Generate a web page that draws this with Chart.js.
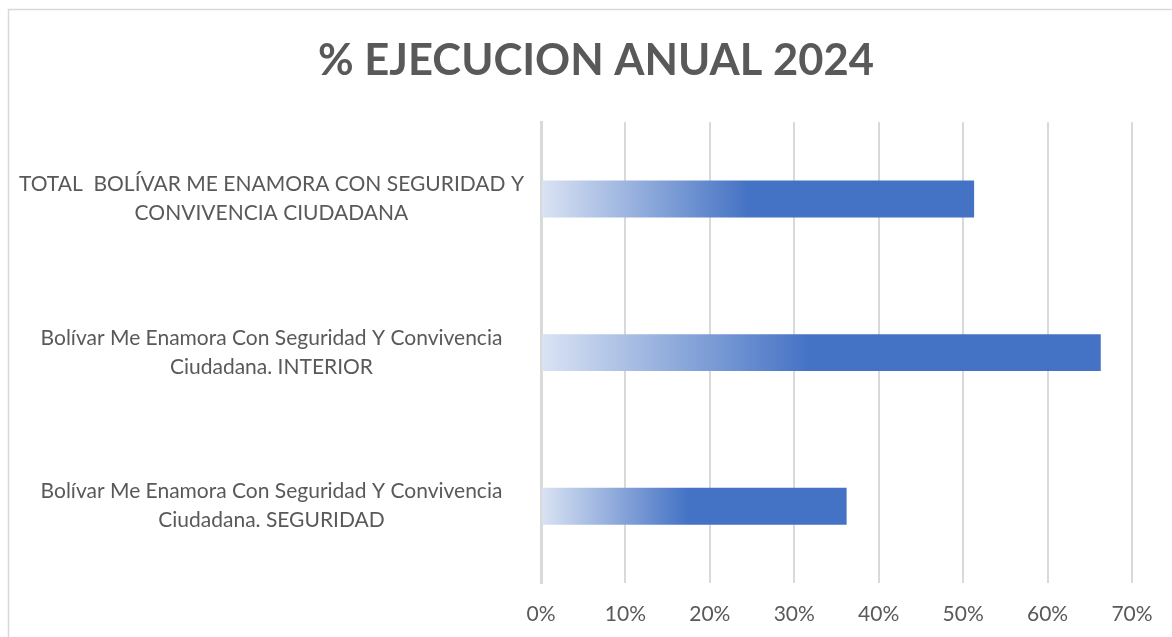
<!DOCTYPE html>
<html>
<head>
<meta charset="utf-8">
<script src="https://cdn.jsdelivr.net/npm/chart.js@4.4.1/dist/chart.umd.min.js"></script>
<style>
  html, body { margin: 0; padding: 0; background: #fff; }
  #wrap { width: 1172px; height: 637px; }
</style>
</head>
<body>
<div id="wrap"><canvas id="grafico" width="1172" height="637"></canvas></div>
<script>
// Datos del gráfico
const categorias = [
  ['TOTAL  BOLÍVAR ME ENAMORA CON SEGURIDAD Y', 'CONVIVENCIA CIUDADANA'],
  ['Bolívar Me Enamora Con Seguridad Y Convivencia', 'Ciudadana. INTERIOR'],
  ['Bolívar Me Enamora Con Seguridad Y Convivencia', 'Ciudadana. SEGURIDAD']
];
const ejecucion = [0.513, 0.663, 0.362];
const ticksX = [0, 0.1, 0.2, 0.3, 0.4, 0.5, 0.6, 0.7];

const gris = '#595959';

// degradado por barra, de claro a azul
function colorBarra(context) {
  const chart = context.chart;
  const x = chart.scales.x;
  if (!chart.chartArea || !x) return '#4472c4';
  const v = context.raw;
  const x0 = x.getPixelForValue(0);
  const x1 = x.getPixelForValue(v);
  const g = chart.ctx.createLinearGradient(x0, 0, x1, 0);
  g.addColorStop(0, '#dae3f3');
  g.addColorStop(0.48, '#4472c4');
  g.addColorStop(1, '#4472c4');
  return g;
}

const marco = {
  id: 'marco',
  beforeDraw(chart) {
    const ctx = chart.ctx;
    ctx.save();
    ctx.strokeStyle = '#d9d9d9';
    ctx.lineWidth = 1.5;
    ctx.strokeRect(8.5, 9.5, 1300, 800);
    ctx.restore();
  },
  // el título va un poco a la derecha, como en el original
  afterLayout(chart) {
    const t = chart.titleBlock;
    if (t) { t.left += 21; t.right += 21; }
  }
};

window.onload = function() {
  const ctx = document.getElementById('grafico').getContext('2d');
  new Chart(ctx, {
    type: 'bar',
    data: {
      labels: categorias,
      datasets: [{
        label: '% Ejecución',
        data: ejecucion,
        backgroundColor: colorBarra,
        barPercentage: 0.48,
        categoryPercentage: 0.5
      }]
    },
    plugins: [marco],
    options: {
      indexAxis: 'y',
      responsive: false,
      animation: false,
      layout: { padding: { top: 35, right: 40, bottom: 7, left: 18 } },
      plugins: {
        legend: { display: false },
        tooltip: { enabled: false },
        title: {
          display: true,
          text: '% EJECUCION ANUAL 2024',
          color: gris,
          font: { family: 'Lato', size: 43.5, weight: 'bold' },
          padding: { top: 0, bottom: 35 }
        }
      },
      scales: {
        x: {
          min: 0,
          max: 0.7,
          afterBuildTicks(axis) {
            axis.ticks = ticksX.map(v => ({ value: v }));
          },
          afterFit(axis) { axis.height = 47; },
          grid: { color: '#d9d9d9', lineWidth: 2, drawTicks: false },
          border: { display: false },
          ticks: {
            color: gris,
            font: { family: 'Lato', size: 21 },
            padding: 19,
            callback: v => Math.round(v * 100) + '%'
          }
        },
        y: {
          afterFit(axis) {
            axis.width = 523;
            axis.paddingTop = 0;
            axis.paddingBottom = 0;
          },
          grid: { display: false, drawTicks: false },
          border: { display: true, color: '#d9d9d9', width: 3 },
          ticks: {
            color: gris,
            crossAlign: 'center',
            padding: 17,
            font: { family: 'Lato', size: 21, lineHeight: 1.38 }
          }
        }
      }
    }
  });
};
</script>
</body>
</html>
